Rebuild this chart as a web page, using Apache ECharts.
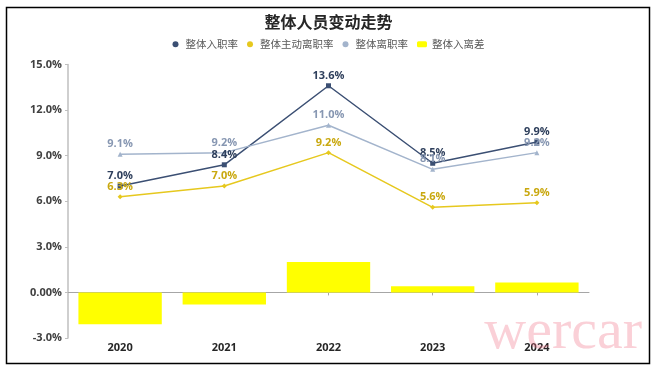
<!DOCTYPE html>
<html><head><meta charset="utf-8">
<script src="https://cdn.jsdelivr.net/npm/echarts@6/dist/echarts.min.js"></script>
<style>html,body{margin:0;padding:0;background:#fff}#c{width:657px;height:371px}</style>
</head><body><div id="c"></div>
<script>
const categories = ['2020', '2021', '2022', '2023', '2024'];
const hireRate = [7.0, 8.4, 13.6, 8.5, 9.9];
const voluntaryRate = [6.3, 7.0, 9.2, 5.6, 5.9];
const leaveRate = [9.1, 9.2, 11.0, 8.1, 9.2];
const netDiff = [-2.1, -0.8, 2.0, 0.4, 0.65];
const yTicks = [-3, 0, 3, 6, 9, 12, 15];

const chart = echarts.init(document.getElementById('c'));
const pct = v => v.toFixed(1) + '%';
function lineSeries(name, data, color, labelColor, symbol) {
  return {
    name, type: 'line', data, xAxisIndex: 0,
    symbol, symbolSize: 5,
    lineStyle: { color, width: 1.5 },
    itemStyle: { color },
    label: { show: true, position: 'top', distance: 2, color: labelColor,
      fontSize: 11, fontWeight: 'bold', fontFamily: 'Open Sans, sans-serif',
      formatter: p => pct(p.value) },
    z: 3
  };
}
chart.setOption({
  animation: false,
  title: { text: '整体人员变动走势', left: 'center', top: 9,
    textStyle: { fontSize: 16, fontWeight: 'bold', color: '#262626', fontFamily: 'Noto Sans CJK SC' } },
  legend: {
    top: 34, left: 'center', itemGap: 9, itemWidth: 10, itemHeight: 6,
    textStyle: { fontSize: 10.5, color: '#595959', fontFamily: 'Noto Sans CJK SC' },
    data: [
      { name: '整体入职率', icon: 'circle' },
      { name: '整体主动离职率', icon: 'circle' },
      { name: '整体离职率', icon: 'circle' },
      { name: '整体入离差', icon: 'roundRect' }
    ]
  },
  grid: { left: 68, right: 68, top: 64.5, bottom: 33 },
  xAxis: [
    { type: 'category', data: categories, position: 'bottom',
      axisLine: { show: false, onZero: false }, axisTick: { show: false },
      axisLabel: { margin: 4, fontSize: 11, fontWeight: 'bold', color: '#262626', fontFamily: 'Open Sans, sans-serif' } },
    { type: 'category', data: categories, position: 'bottom',
      axisLine: { show: true, onZero: true, lineStyle: { color: '#A6A6A6', width: 1 } },
      axisTick: { show: true, alignWithLabel: true, length: 3, lineStyle: { color: '#A6A6A6' } },
      axisLabel: { show: false } }
  ],
  yAxis: {
    type: 'value', min: yTicks[0], max: yTicks[yTicks.length - 1], interval: 3,
    splitLine: { show: false },
    axisLine: { show: true, lineStyle: { color: '#BFBFBF', width: 1.5 } },
    axisTick: { show: true, length: 3, lineStyle: { color: '#BFBFBF' } },
    axisLabel: { fontSize: 11, fontWeight: 'bold', color: '#404040', margin: 6,
      fontFamily: 'Open Sans, sans-serif',
      formatter: v => v === 0 ? '0.00%' : v.toFixed(1) + '%' }
  },
  series: [
    lineSeries('整体入职率', hireRate, '#3B4F73', '#2E3F5C', 'rect'),
    lineSeries('整体主动离职率', voluntaryRate, '#E6C81E', '#C9A80F', 'diamond'),
    lineSeries('整体离职率', leaveRate, '#A3B4CC', '#8797B2', 'triangle'),
    { name: '整体入离差', type: 'bar', data: netDiff, xAxisIndex: 0,
      barCategoryGap: '20%', itemStyle: { color: '#FFFF00' }, z: 1 }
  ],
  graphic: [
    { type: 'rect', shape: { x: 6.5, y: 7.5, width: 643, height: 356 },
      style: { fill: 'none', stroke: '#000', lineWidth: 1.5 }, silent: true, z: 10 },
    { type: 'text', right: 15, bottom: 9,
      style: { text: 'wercar', fontSize: 58, fontFamily: 'Liberation Serif, serif',
        fill: 'rgba(240,120,140,0.35)' }, silent: true, z: 11 }
  ]
});
</script></body></html>
